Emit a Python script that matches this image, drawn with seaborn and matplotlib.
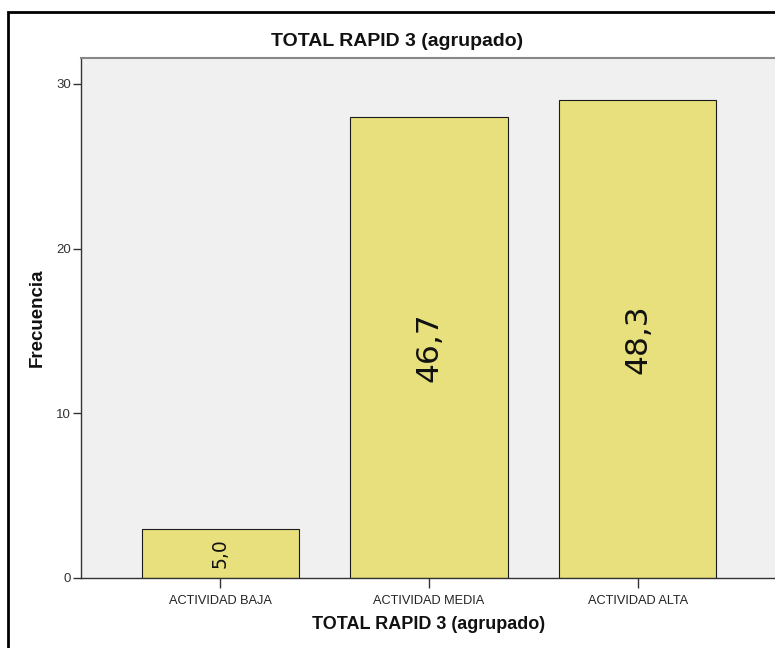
import matplotlib
matplotlib.use("Agg")
import matplotlib.pyplot as plt
from matplotlib.patches import Rectangle
import seaborn as sns
import pandas as pd

# Frequency table for the grouped RAPID 3 total score
categories = ["ACTIVIDAD BAJA", "ACTIVIDAD MEDIA", "ACTIVIDAD ALTA"]
counts = [3, 28, 29]

title = "TOTAL RAPID 3 (agrupado)"
x_label = "TOTAL RAPID 3 (agrupado)"
y_label = "Frecuencia"
y_ticks = [0, 10, 20, 30]

total = sum(counts)
percents = [100 * c / total for c in counts]

sns.set_theme(style="white")
plt.rcParams["font.family"] = ["Liberation Sans", "DejaVu Sans"]

df = pd.DataFrame({"cat": categories, "n": counts})

fig = plt.figure(figsize=(7.75, 6.48), dpi=100)
ax = fig.add_axes([81 / 775, 1 - 578 / 648, 1 - 81 / 775 + 0.002, (578 - 58) / 648])
ax.set_facecolor("#F0F0F0")

sns.barplot(data=df, x="cat", y="n", order=categories, color="#E8E07C",
            saturation=1, edgecolor="#1a1a1a", linewidth=0.8, width=0.753, ax=ax)

ax.set_xlim(-0.667, 2.665)
ax.set_ylim(0, 31.57)
ax.set_yticks(y_ticks)
ax.set_yticklabels([str(t) for t in y_ticks], fontsize=9.5, color="#333333")
ax.set_xticks(range(len(categories)))
ax.set_xticklabels(categories, fontsize=9.2, color="#222222")
ax.tick_params(axis="y", length=6, width=1, color="#333333", pad=1, left=True)
ax.tick_params(axis="x", length=7, width=1, color="#333333", pad=5, bottom=True)

for side in ["left", "bottom"]:
    ax.spines[side].set_color("#333333")
    ax.spines[side].set_linewidth(1.0)
ax.spines["top"].set_color("#888888")
ax.spines["top"].set_linewidth(1.5)
ax.spines["right"].set_visible(False)

ax.set_xlabel(x_label, fontsize=13, fontweight="bold", labelpad=7, color="#111111")
ax.set_ylabel(y_label, fontsize=13.5, fontweight="bold", labelpad=8, color="#111111")

# Percentage labels, rotated and centered inside each bar
label_sizes = [13.5, 22.5, 22.5]
for i, (c, p) in enumerate(zip(counts, percents)):
    txt = f"{p:.1f}".replace(".", ",")
    ax.text(i, c / 2, txt, rotation=90, ha="center", va="center",
            fontsize=label_sizes[i], color="#111111", family=["DejaVu Sans"])

fig.text(397 / 775, 1 - 42 / 648, title, ha="center", va="center",
         fontsize=14, fontweight="bold", color="#111111")

# Outer chart frame (top and left edges visible)
fig.patches.append(Rectangle((8 / 775, -0.1), 1.2, 1 - 12 / 648 + 0.1,
                             transform=fig.transFigure, fill=False,
                             edgecolor="black", linewidth=2))

fig.savefig("out.png", dpi=100)
